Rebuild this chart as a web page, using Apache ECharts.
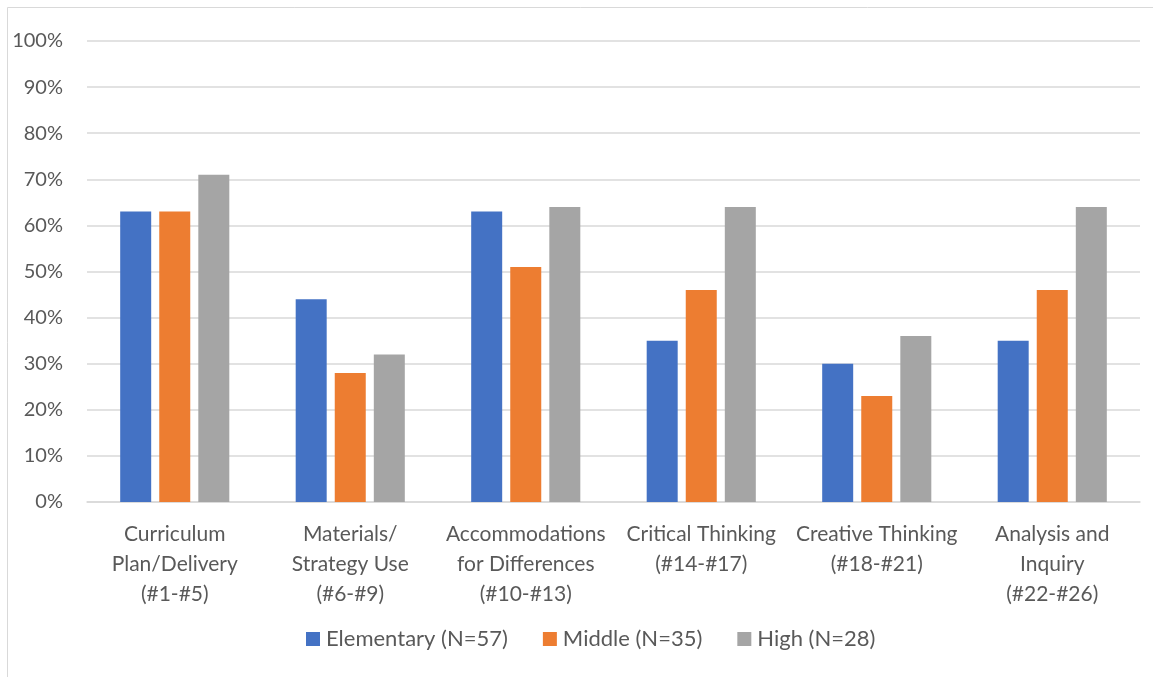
<!DOCTYPE html>
<html>
<head>
<meta charset="utf-8">
<script src="https://cdn.jsdelivr.net/npm/echarts@6/dist/echarts.min.js"></script>
<style>
html,body{margin:0;padding:0;background:#fff;}
#chart{width:1153px;height:677px;}
</style>
</head>
<body>
<div id="chart"></div>
<script>
const categories = [
  "Curriculum\nPlan/Delivery\n(#1-#5)",
  "Materials/\nStrategy Use\n(#6-#9)",
  "Accommodations\nfor Differences\n(#10-#13)",
  "Critical Thinking\n(#14-#17)",
  "Creative Thinking\n(#18-#21)",
  "Analysis and\nInquiry\n(#22-#26)"
];
const seriesNames = ["Elementary (N=57)", "Middle (N=35)", "High (N=28)"];
const elementary = [63, 44, 63, 35, 30, 35];
const middle = [63, 28, 51, 46, 23, 46];
const high = [71, 32, 64, 64, 36, 64];
const yTicks = [0, 10, 20, 30, 40, 50, 60, 70, 80, 90, 100];

const FONT = "Lato, 'Open Sans', sans-serif";
const TXT = "#595959";
const colors = ["#4472C4", "#ED7D31", "#A5A5A5"];
const chart = echarts.init(document.getElementById('chart'), null, {renderer: 'canvas'});
chart.setOption({
  animation: false,
  backgroundColor: '#fff',
  color: colors,
  graphic: [{
    type: 'rect', silent: true,
    shape: {x: 7.5, y: 7.5, width: 1300, height: 800},
    style: {fill: 'none', stroke: '#d9d9d9', lineWidth: 1}
  }],
  grid: {left: 87, right: 13, top: 41, bottom: 175, containLabel: false},
  legend: {
    top: 628,
    left: 306,
    padding: 0,
    itemWidth: 14, itemHeight: 14, itemGap: 35,
    icon: 'rect',
    textStyle: {color: TXT, fontSize: 22, fontFamily: FONT, padding: [0, 0, 0, 1]},
    data: seriesNames
  },
  xAxis: {
    type: 'category',
    data: categories,
    axisLine: {show: true, lineStyle: {color: '#d9d9d9', width: 1.5}},
    axisTick: {show: false},
    axisLabel: {interval: 0, color: TXT, fontSize: 21, fontFamily: FONT, lineHeight: 30, margin: 17}
  },
  yAxis: {
    type: 'value',
    min: 0, max: 100, interval: 10,
    axisLine: {show: false},
    axisTick: {show: false},
    splitLine: {lineStyle: {color: '#d9d9d9', width: 1.5}},
    axisLabel: {color: TXT, fontSize: 20, fontFamily: FONT, margin: 24,
      formatter: v => yTicks.includes(v) ? v + '%' : ''}
  },
  series: [
    {name: seriesNames[0], type: 'bar', data: elementary, barWidth: 31, barGap: '26%'},
    {name: seriesNames[1], type: 'bar', data: middle, barWidth: 31, barGap: '26%'},
    {name: seriesNames[2], type: 'bar', data: high, barWidth: 31, barGap: '26%'}
  ]
});
</script>
</body>
</html>
